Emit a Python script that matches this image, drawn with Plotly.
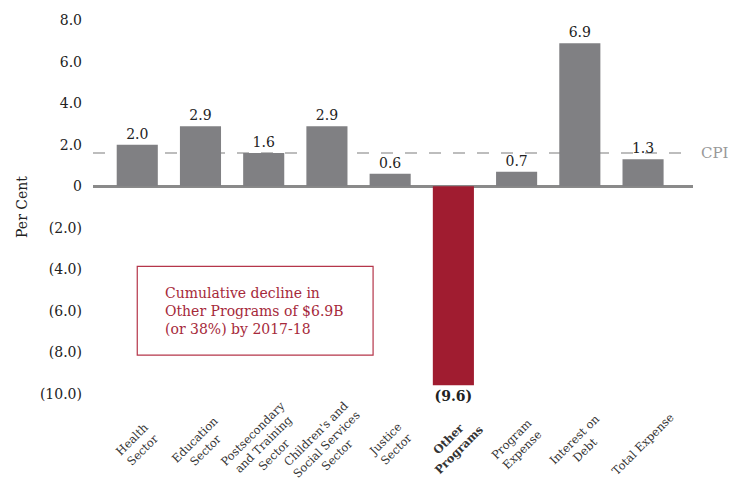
import plotly.graph_objects as go

categories = ["Health<br>Sector", "Education<br>Sector", "Postsecondary<br>and Training<br>Sector",
              "Children's and<br>Social Services<br>Sector", "Justice<br>Sector",
              "<b>Other<br>Programs</b>", "Program<br>Expense", "Interest on<br>Debt", "Total Expense"]
values = [2.0, 2.9, 1.6, 2.9, 0.6, -9.6, 0.7, 6.9, 1.3]
bar_labels = ["2.0", "2.9", "1.6", "2.9", "0.6", "<b>(9.6)</b>", "0.7", "6.9", "1.3"]
cpi_value = 1.6
y_tickvals = [8, 6, 4, 2, 0, -2, -4, -6, -8, -10]
y_ticktext = ["8.0", "6.0", "4.0", "2.0", "0", "(2.0)", "(4.0)", "(6.0)", "(8.0)", "(10.0)"]

GREY = "#808083"
RED = "#A01C30"
colors = [RED if v < 0 else GREY for v in values]
FONT = "DejaVu Serif"

x = list(range(len(categories)))
fig = go.Figure(go.Bar(
    x=x, y=values, marker=dict(color=colors, line=dict(width=0)),
    width=0.65, text=bar_labels, textposition="outside",
    textfont=dict(family=FONT, size=14, color="#222"), cliponaxis=False,
))

# category labels, rotated with centred lines
for xi, lab in zip(x, categories):
    fig.add_annotation(x=xi, xref="x", y=0, yref="paper", yshift=-40, text=lab,
                       textangle=-45, showarrow=False, align="center",
                       xanchor="center", yanchor="middle",
                       font=dict(family=FONT, size=11.5, color="#333"))

fig.add_shape(type="line", xref="paper", x0=0, x1=1, y0=cpi_value, y1=cpi_value,
              line=dict(color="#A8A8A8", width=1.5, dash="12px,12px"), layer="below")
fig.add_annotation(xref="paper", x=1.0, y=cpi_value, text="CPI", showarrow=False,
                   xanchor="left", xshift=6, font=dict(family=FONT, size=15, color="#999"))

# annotation box
fig.add_shape(type="rect", x0=0.0, x1=3.73, y0=-3.86, y1=-8.14,
              line=dict(color="#B5364A", width=1.2), fillcolor="white")
fig.add_annotation(x=0.41, y=-6.0, xanchor="left", yanchor="middle", showarrow=False, align="left",
                   text="Cumulative decline in<br>Other Programs of $6.9B<br>(or 38%) by 2017-18",
                   font=dict(family=FONT, size=14, color="#A6293A"))

fig.update_layout(
    width=737, height=473,
    margin=dict(l=85, r=52, t=2, b=77),
    plot_bgcolor="white", paper_bgcolor="white",
    showlegend=False, bargap=0.35,
    font=dict(family=FONT, size=14, color="#222"),
)
fig.update_xaxes(tickvals=x, showticklabels=False, range=[-0.70, 8.79],
                 showgrid=False, showline=False, zeroline=False, automargin=False)
fig.update_yaxes(range=[-10.5, 8.5], tickvals=y_tickvals, ticktext=y_ticktext,
                 showgrid=False, showline=False, zeroline=True, zerolinecolor="#8a8a8a",
                 zerolinewidth=3, ticklabelstandoff=10, automargin=False,
                 tickfont=dict(family=FONT, size=14, color="#222"),
                 title=dict(text="Per Cent", standoff=8, font=dict(family=FONT, size=14, color="#222")))

fig.write_html("out.html")
